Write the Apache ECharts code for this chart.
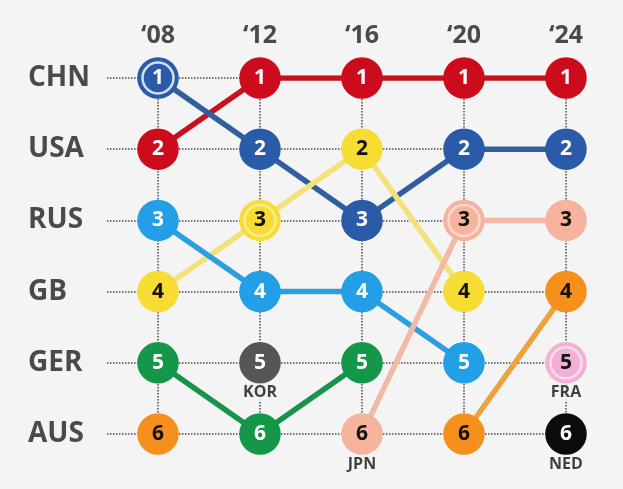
<!DOCTYPE html>
<html><head><meta charset="utf-8">
<script src="https://cdn.jsdelivr.net/npm/echarts@6/dist/echarts.min.js"></script>
<style>html,body{margin:0;padding:0;background:#f4f4f4}#c{width:623px;height:489px}</style>
</head><body><div id="c"></div>
<script>
const years = ["\u201808","\u201812","\u201816","\u201820","\u201824"];
const rowLabels = ["CHN","USA","RUS","GB","GER","AUS"];
// ranks per edition (null = not in top 6 / not drawn)
const redRanks       = [2, 1, 1, 1, 1];
const blueRanks      = [1, 2, 3, 2, 2];
const yellowRanks    = [4, 3, 2, 4, null];
const lightBlueRanks = [3, 4, 4, 5, null];
const greenRanks     = [5, 6, 5, null, null];
const orangeRanks    = [6, null, null, 6, 4];
const salmonRanks    = [null, null, 6, 3, 3];
const korRanks       = [null, 5, null, null, null];
const fraRanks       = [null, null, null, null, 5];
const nedRanks       = [null, null, null, null, 6];
// tags under dots: [yearIndex, rank, text]
const tags = [[1,5,"KOR"],[2,6,"JPN"],[4,5,"FRA"],[4,6,"NED"]];
// ringed (highlighted) dots: [yearIndex, rank]
const rings = [[0,1],[1,3],[3,3],[4,5]];

const teams = [
  {r: redRanks,       dot:'#cc0c1c', line:'#c8101e', txt:'#fff', ring:'#fff'},
  {r: blueRanks,      dot:'#2a5ba8', line:'#2f5f9f', txt:'#fff', ring:'#fff'},
  {r: yellowRanks,    dot:'#f7dc33', line:'#f2e27a', txt:'#111', ring:'#fbf0a6'},
  {r: lightBlueRanks, dot:'#229fe6', line:'#2d9ee0', txt:'#fff', ring:'#fff'},
  {r: greenRanks,     dot:'#15974a', line:'#17934a', txt:'#fff', ring:'#fff'},
  {r: orangeRanks,    dot:'#f5901c', line:'#eca23e', txt:'#111', ring:'#fff'},
  {r: salmonRanks,    dot:'#f6b39e', line:'#f0b9a8', txt:'#111', ring:'#fde3d9'},
  {r: korRanks,       dot:'#565656', line:'#565656', txt:'#fff', ring:'#fff'},
  {r: fraRanks,       dot:'#f3b0d6', line:'#f3b0d6', txt:'#111', ring:'#fde6f3'},
  {r: nedRanks,       dot:'#0b0b0b', line:'#0b0b0b', txt:'#fff', ring:'#fff'}
];

const font = "'Open Sans', 'DejaVu Sans', sans-serif";
const series = [];
// vertical dotted guides
years.forEach((y,i)=>{
  series.push({type:'line', data:[[i,1],[i,6]], symbol:'none', silent:true, z:1,
    lineStyle:{color:'#4a4a4a', width:1.5, type:[1.5,1.5]}});
});
// connecting lines
teams.forEach(t=>{
  series.push({type:'line', data:t.r.map((v,i)=>v==null?[i,null]:[i,v]), connectNulls:false,
    symbol:'none', z:2, silent:true, lineStyle:{color:t.line, width:5.5}});
});
// dots
const dotData = [];
teams.forEach(t=>{
  t.r.forEach((v,i)=>{
    if(v==null) return;
    dotData.push({value:[i,v], itemStyle:{color:t.dot, borderColor:t.dot, borderWidth:1.5, opacity:1},
      label:{color:t.txt}});
  });
});
series.push({type:'scatter', data:dotData, symbolSize:40, z:3,
  label:{show:true, position:'inside', formatter:p=>p.value[1], fontFamily:font, fontWeight:'bold', fontSize:21}});
// rings
const ringData = rings.map(([i,v])=>{
  const t = teams.find(tt=>tt.r[i]===v);
  return {value:[i,v], itemStyle:{color:'rgba(0,0,0,0)', borderColor:t.ring, borderWidth:2.5}};
});
series.push({type:'scatter', data:ringData, symbolSize:31, z:4, silent:true});
// tags
series.push({type:'scatter', data:tags.map(t=>({value:[t[0],t[1]], name:t[2]})), symbolSize:0, z:5,
  label:{show:true, position:'bottom', distance:21, formatter:p=>p.name, color:'#111',
    fontFamily:font, fontWeight:'bold', fontSize:16, backgroundColor:'#f4f4f4', padding:[1,2]}});

const chart = echarts.init(document.getElementById('c'));
chart.setOption({
  backgroundColor:'#f4f4f4',
  animation:false,
  grid:{left:107, right:57, top:78, bottom:55},
  xAxis:{type:'value', position:'top', min:-0.5, max:4, interval:0.5,
    axisLine:{show:false}, axisTick:{show:false}, splitLine:{show:false},
    axisLabel:{margin:30, color:'#4a4a4a', fontFamily:font, fontWeight:'bold', fontSize:25,
      formatter:v=>Number.isInteger(v)&&v>=0?years[v]:''}},
  yAxis:{type:'value', inverse:true, min:1, max:6, interval:1,
    axisLine:{show:false}, axisTick:{show:false},
    splitLine:{show:true, lineStyle:{color:'#4a4a4a', width:1.5, type:[1.5,1.5]}},
    axisLabel:{margin:79, align:'left', color:'#4a4a4a', fontFamily:font, fontWeight:'bold', fontSize:28,
      formatter:v=>rowLabels[v-1]}},
  series:series
});
</script></body></html>
